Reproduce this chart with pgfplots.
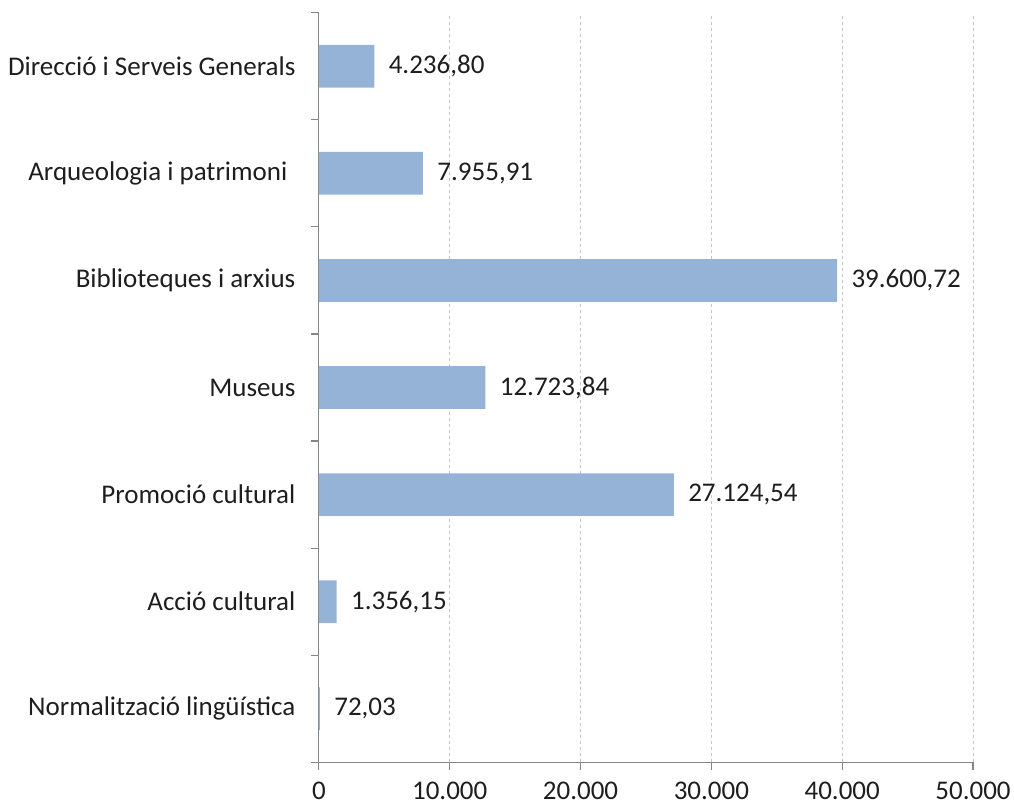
\documentclass[border=0pt]{standalone}
\usepackage{fontspec}
\setmainfont{Carlito}
\usepackage{pgfplots}
\pgfplotsset{compat=1.18}
\definecolor{barblue}{RGB}{149,179,215}
\definecolor{axisgray}{RGB}{134,134,134}
\definecolor{txt}{RGB}{30,30,30}

\begin{document}
\begin{tikzpicture}
\begin{axis}[
    scale only axis,
    width=654.5pt, height=750pt,
    xbar, bar width=42.7pt,
    xmin=0, xmax=50000,
    ymin=-0.5, ymax=6.5,
    axis x line*=bottom, axis y line*=left,
    axis line style={axisgray, line width=1.2pt},
    scaled x ticks=false,
    xtick={0,10000,...,50000},
    % category boundaries carry the ticks, names sit between them
    ytick={-0.5,0.5,...,6.5},
    yticklabels={},
    extra y ticks={0,...,6},
    extra y tick labels={Normalització lingüística, Acció cultural, Promoció cultural,
                 Museus, Biblioteques i arxius, Arqueologia i patrimoni\hspace*{8pt},
                 Direcció i Serveis Generals},
    extra y tick style={tick style={draw=none}},
    tick align=outside,
    major tick length=8pt,
    tick style={axisgray, line width=1.2pt},
    xmajorgrids,
    major grid style={dashed, gray!45, line width=0.9pt},
    tick label style={font=\fontsize{27}{32}\selectfont, text=txt},
    yticklabel style={xshift=-12pt},
    xticklabel style={yshift=-8pt},
    /pgf/number format/.cd, assume math mode=true, use comma, 1000 sep={.},
    /pgfplots/.cd,
    nodes near coords,
    nodes near coords style={font=\fontsize{27}{32}\selectfont, text=txt,
        anchor=west, xshift=11pt,
        /pgf/number format/.cd, fixed, fixed zerofill, precision=2,
        use comma, 1000 sep={.}, assume math mode=true},
]
\addplot[fill=barblue, draw=none] coordinates {
    (72.03,0) (1356.15,1) (27124.54,2) (12723.84,3)
    (39600.72,4) (7955.91,5) (4236.80,6)};
\end{axis}
\path (current axis.south west) ++(-319pt,-44.3pt) rectangle ++(1014pt,807pt);
\end{tikzpicture}
\end{document}
